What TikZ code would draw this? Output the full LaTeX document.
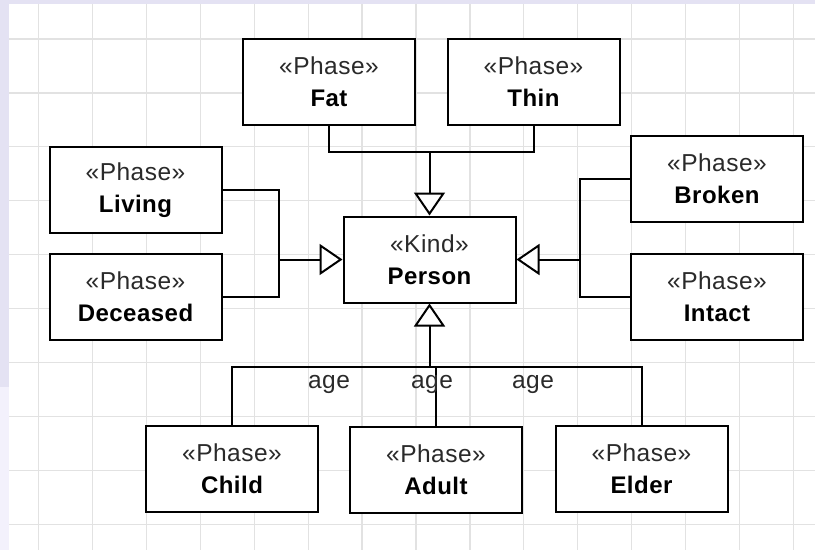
\documentclass[tikz,border=0pt]{standalone}
\usepackage{fontspec}
\setmainfont{Liberation Sans}
\newfontfamily\stereofont[LetterSpace=2]{Liberation Sans}
\newfontfamily\namefont[LetterSpace=2]{Liberation Sans}
\usetikzlibrary{arrows.meta}
\definecolor{gridgray}{HTML}{E2E2E2}
\definecolor{bandtop}{HTML}{E4E2F3}
\definecolor{bandlow}{HTML}{F3F1FC}
\definecolor{inkgray}{HTML}{2A2A2A}
\tikzset{
  classbox/.style={draw=black, line width=2pt, fill=white, rectangle,
    minimum width=172pt, minimum height=86pt, inner sep=0pt, align=center,
    font=\fontsize{24}{32}\selectfont},
  link/.style={draw=black, line width=2pt, line join=miter},
  gen/.style={link, -{Triangle[length=23pt, width=31pt, fill=white]}},
  tag/.style={font=\stereofont\fontsize{24.5}{28}\selectfont, text=inkgray, inner sep=0pt}
}
\newcommand{\stereo}[2]{{\stereofont\fontsize{24.5}{32}\selectfont\color{inkgray}«#1»}\\{\namefont\bfseries #2}}
\begin{document}
\begin{tikzpicture}[x=1pt, y=-1pt]
  \useasboundingbox (0,0) rectangle (815,550);
  % canvas and frame bands
  \fill[bandtop] (0,0) rectangle (815,550);
  \fill[bandlow] (0,387) rectangle (9,550);
  \fill[white] (9,4) rectangle (815,550);
  % background grid
  \foreach \k in {0,...,14} {
    \draw[gridgray, line width=1.2pt] ({38.5+53.93*\k},4) -- ({38.5+53.93*\k},550);
  }
  \foreach \k in {0,...,9} {
    \draw[gridgray, line width=1.2pt] (9,{39+53.9*\k}) -- (815,{39+53.9*\k});
  }

  % classes
  \node[classbox] (Person)   at (429.5,259.5) {\stereo{Kind}{Person}};
  \node[classbox] (Fat)      at (329,82)      {\stereo{Phase}{Fat}};
  \node[classbox] (Thin)     at (533.5,82)    {\stereo{Phase}{Thin}};
  \node[classbox] (Living)   at (135.5,190)   {\stereo{Phase}{Living}};
  \node[classbox] (Deceased) at (135.5,297)   {\stereo{Phase}{Deceased}};
  \node[classbox] (Broken)   at (717,179)     {\stereo{Phase}{Broken}};
  \node[classbox] (Intact)   at (717,297)     {\stereo{Phase}{Intact}};
  \node[classbox] (Child)    at (232,469)     {\stereo{Phase}{Child}};
  \node[classbox] (Adult)    at (436,469.5)   {\stereo{Phase}{Adult}};
  \node[classbox] (Elder)    at (641.5,469)   {\stereo{Phase}{Elder}};

  % junction points of the generalization sets
  \coordinate (jtop)    at (429.5,152);
  \coordinate (jleft)   at (279,259.5);
  \coordinate (jright)  at (580,259.5);
  \coordinate (jbottom) at (429.5,367);

  % Fat / Thin
  \draw[link] (Fat.south) |- (jtop);
  \draw[link] (Thin.south) |- (jtop);
  \draw[gen] (jtop) -- (Person.north);

  % Living / Deceased
  \draw[link] (Living.east) -| (jleft);
  \draw[link] (Deceased.east) -| (jleft);
  \draw[gen] (jleft) -- (Person.west);

  % Broken / Intact
  \draw[link] (Broken.west) -| (jright);
  \draw[link] (Intact.west) -| (jright);
  \draw[gen] (jright) -- (Person.east);

  % Child / Adult / Elder
  \draw[link] (Child.north) |- (jbottom);
  \draw[link] (Elder.north) |- (jbottom);
  \draw[link] (Adult.north) -- (Adult.north |- jbottom);
  \draw[gen] (jbottom) -- (Person.south);

  % generalization set labels
  \node[tag] (age1) at (329,384) {age};
  \node[tag] (age2) at (432,384) {age};
  \node[tag] (age3) at (533,384) {age};
\end{tikzpicture}
\end{document}
